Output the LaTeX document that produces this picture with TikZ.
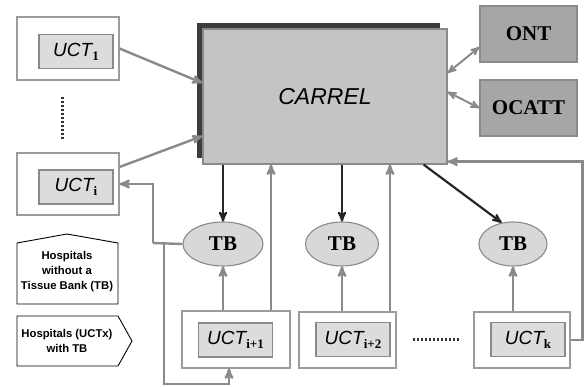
\documentclass[tikz,border=0pt]{standalone}
\usepackage{fontspec}
\setmainfont{Liberation Serif}
\newfontfamily\uctfont{Liberation Sans}
\usetikzlibrary{positioning, arrows, shapes}

\definecolor{linegray}{HTML}{8A8A8A}
\definecolor{boxgray}{HTML}{C4C4C4}
\definecolor{darkgray}{HTML}{3C3C3C}
\definecolor{ontgray}{HTML}{A6A6A6}
\definecolor{tbgray}{HTML}{D8D8D8}
\definecolor{innergray}{HTML}{DCDCDC}

\newcommand{\uctlabel}[1]{{\uctfont\itshape\fontsize{19}{19}\selectfont UCT}\raisebox{-4pt}{\fontsize{13}{13}\selectfont\bfseries #1}}

\tikzset{
  outerbox/.style = {draw=linegray!85, line width=1.1pt, fill=white, inner sep=0pt},
  uctbox/.style = {draw=linegray, line width=1.1pt, fill=innergray, inner sep=0pt, minimum width=74pt, minimum height=34pt},
  ontbox/.style = {draw=linegray, line width=1.2pt, fill=ontgray, inner sep=0pt, minimum width=97pt, minimum height=56pt, font=\fontsize{21}{21}\selectfont\bfseries},
  bank/.style = {ellipse, draw=linegray, line width=1.1pt, fill=tbgray, inner sep=0pt, minimum height=44pt, font=\fontsize{21}{21}\selectfont\bfseries},
  grayarrow/.style = {->, draw=linegray, line width=2.4pt},
  blackarrow/.style = {->, draw=black!85, line width=2.2pt},
  dots/.style = {draw=black!80, line width=3pt, dash pattern=on 2pt off 2pt},
  legend/.style = {draw=black, line width=0.9pt, fill=white},
  legendtext/.style = {align=center, inner sep=0pt, font=\uctfont\bfseries\fontsize{11.3}{15}\selectfont}
}

\begin{document}
\begin{tikzpicture}[x=1pt, y=-1pt, >=stealth']
      \useasboundingbox (0,0) rectangle (585,387);

      % central system
      \node[fill=darkgray, minimum width=243pt, minimum height=135pt, inner sep=0pt] (carrelshadow) at (318.5,90.5) {};
      \node[draw=linegray, line width=1.2pt, fill=boxgray, minimum width=244pt, minimum height=135pt, inner sep=0pt,
            font=\uctfont\itshape\fontsize{23}{23}\selectfont] (carrel) at (325,96.5) {CARREL};
      \node[ontbox] (ont) at (528.5,34) {ONT};
      \node[ontbox] (ocatt) at (528.5,108) {OCATT};

      % hospitals without a tissue bank
      \node[outerbox, minimum width=102pt, minimum height=63pt] (uct1) at (68,48.5) {};
      \node[uctbox] (uct1in) at (76,51.5) {\uctlabel{1}};
      \node[outerbox, minimum width=102pt, minimum height=62pt] (ucti) at (68,184) {};
      \node[uctbox] (uctiin) at (76,187) {\uctlabel{i}};

      % tissue banks
      \node[bank, minimum width=80pt] (tb1) at (223,244) {TB};
      \node[bank, minimum width=73pt] (tb2) at (342,244) {TB};
      \node[bank, minimum width=68pt] (tb3) at (513,244) {TB};

      % hospitals with a tissue bank
      \node[outerbox, minimum width=108pt, minimum height=57pt] (uctA) at (236,339.5) {};
      \node[uctbox] (uctAin) at (235.5,340) {\uctlabel{i+1}};
      \node[outerbox, minimum width=97pt, minimum height=56pt] (uctB) at (347.5,340) {};
      \node[uctbox] (uctBin) at (353,339.5) {\uctlabel{i+2}};
      \node[outerbox, minimum width=96pt, minimum height=56pt] (uctk) at (522,340) {};
      \node[uctbox] (uctkin) at (528,339.5) {\uctlabel{k}};

      \draw[dots] (62,97) -- (62,140);
      \draw[dots] (413,339) -- (461,339);

      \coordinate (turn) at (153,243);
      \coordinate (split) at (164,243);

      \draw[grayarrow] (uct1.east) -- ([yshift=13.5pt]carrel.west);
      \draw[grayarrow] ([yshift=17pt]ucti.east) -- ([yshift=-39.5pt]carrel.west);
      \draw[grayarrow] ([xshift=35pt]uctA.north) -- ([xshift=35pt]uctA.north |- carrel.south);
      \draw[grayarrow] ([xshift=42.5pt]uctB.north) -- ([xshift=42.5pt]uctB.north |- carrel.south);
      \draw[grayarrow] (tb1.south |- uctA.north) -- (tb1.south);
      \draw[grayarrow] (tb2.south |- uctB.north) -- (tb2.south);
      \draw[grayarrow] (tb3.south |- uctk.north) -- (tb3.south);
      \draw[grayarrow, <->, line width=2pt] ([yshift=23.5pt]carrel.east) -- ([yshift=-13pt]ont.west);
      \draw[grayarrow, <->, line width=2pt] ([yshift=4.5pt]carrel.east) -- (ocatt.west);
      \draw[grayarrow] (uctk.east) -- ++(12,0) |- ([yshift=3pt]carrel.south east);
      \draw[grayarrow, -] (tb1.west) -- (turn);
      \draw[grayarrow] (turn) |- (ucti.east);
      \draw[grayarrow] (split) -- ++(0,141) -| ([xshift=-7pt]uctA.south);

      \draw[blackarrow] (tb1.north |- carrel.south) -- (tb1.north);
      \draw[blackarrow] (tb2.north |- carrel.south) -- (tb2.north);
      \draw[blackarrow] ([xshift=-24pt]carrel.south east) -- (tb3.118);

      % legend
      \draw[legend] (17,243) -- (67,234) -- (118,243) -- (118,304) -- (17,304) -- cycle;
      \node[legendtext] (nobank) at (67,272) {Hospitals\\without a\\Tissue Bank (TB)};
      \draw[legend] (17,316) -- (118,316) -- (132,341) -- (118,366) -- (17,366) -- cycle;
      \node[legendtext] (withbank) at (67,341) {Hospitals (UCTx)\\with TB};
    \end{tikzpicture}
\end{document}
